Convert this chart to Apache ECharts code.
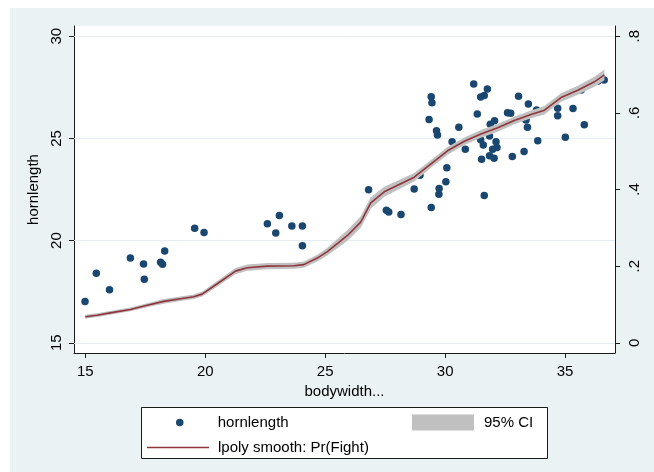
<!DOCTYPE html>
<html>
<head>
<meta charset="utf-8">
<script src="https://cdn.jsdelivr.net/npm/echarts@6/dist/echarts.min.js"></script>
<style>
  html, body { margin: 0; padding: 0; background: #ffffff; }
  #bg { position: absolute; left: 10px; top: 8px; width: 644px; height: 464px; background: #eaf2f3; }
  #chart { position: absolute; left: 0; top: 0; width: 654px; height: 472px; }
</style>
</head>
<body>
<div id="bg"></div>
<div id="chart"></div>
<script>
// ---- data ----
const bodywidth = [
  14.99, 15.46, 16.01, 16.88, 17.43, 17.46, 18.14, 18.22, 18.31, 19.56, 19.95,
  22.59, 23.09, 22.94, 23.61, 24.05, 24.05,
  26.81, 27.55, 27.65, 28.16, 28.71, 29.42, 29.75, 29.74, 30.03, 30.07, 29.33, 29.42, 29.45,
  29.64, 29.68, 30.57, 30.84, 31.19, 31.34, 30.29, 28.95,
  31.48, 31.63, 31.76,
  31.48, 31.59, 31.52, 31.63, 31.85, 31.88, 32.06, 32.12, 32.16, 31.98, 31.85, 32.04,
  32.60, 32.73, 32.80, 33.06, 33.29, 33.37, 33.47, 33.43, 33.86, 33.81, 34.69, 34.69,
  35.01, 35.33, 35.80, 35.67, 36.38, 36.63
];
const hornlength = [
  17.02, 18.40, 17.59, 19.15, 18.86, 18.11, 18.94, 18.84, 19.49, 20.60, 20.40,
  20.83, 21.23, 20.37, 20.71, 20.71, 19.75,
  22.49, 21.49, 21.40, 21.28, 22.52, 21.62, 22.55, 22.27, 22.88, 23.56, 25.92, 27.04, 26.75,
  25.38, 25.17, 25.55, 24.47, 27.66, 26.20, 24.84, 23.20,
  27.03, 27.10, 27.42,
  24.93, 24.68, 23.98, 22.21, 25.12, 25.69, 25.87, 24.84, 24.55, 24.47, 24.15, 24.03,
  26.26, 26.23, 24.11, 27.06, 24.36, 25.90, 26.68, 25.55, 24.88, 26.39, 26.47, 26.11,
  25.06, 26.46, 25.67, 27.37, 27.81, 27.86
];
const smoothX = [
  15.00, 15.49, 16.04, 16.88, 17.58, 18.27, 18.97, 19.52, 19.87, 20.50, 21.26, 21.75,
  22.59, 23.70, 24.11, 24.67, 25.09, 25.93, 26.48, 26.90, 27.46, 28.15, 28.71, 29.41,
  30.10, 30.80, 31.49, 32.19, 32.88, 33.58, 34.14, 34.83, 35.53, 36.22, 36.64
];
const smoothFight = [
  0.068, 0.072, 0.078, 0.087, 0.098, 0.108, 0.115, 0.120, 0.127, 0.154, 0.187, 0.196,
  0.200, 0.201, 0.204, 0.221, 0.238, 0.280, 0.315, 0.365, 0.394, 0.415, 0.432, 0.467,
  0.501, 0.526, 0.545, 0.561, 0.580, 0.596, 0.607, 0.640, 0.659, 0.681, 0.699
];
const ciLower = [
  0.063, 0.067, 0.073, 0.082, 0.093, 0.102, 0.109, 0.114, 0.121, 0.147, 0.179, 0.188,
  0.192, 0.193, 0.196, 0.212, 0.228, 0.266, 0.300, 0.350, 0.381, 0.403, 0.421, 0.457,
  0.491, 0.516, 0.535, 0.551, 0.570, 0.586, 0.596, 0.629, 0.647, 0.668, 0.685
];
const ciUpper = [
  0.073, 0.077, 0.083, 0.092, 0.103, 0.114, 0.121, 0.126, 0.133, 0.161, 0.195, 0.204,
  0.208, 0.209, 0.212, 0.230, 0.248, 0.294, 0.330, 0.380, 0.407, 0.427, 0.443, 0.477,
  0.511, 0.536, 0.555, 0.571, 0.590, 0.606, 0.618, 0.651, 0.671, 0.694, 0.713
];
const xTicks = [15, 20, 25, 30, 35];
const yTicksLeft = [15, 20, 25, 30];
const yTicksRight = [0, 0.2, 0.4, 0.6, 0.8];
const yTickLabelsRight = ['0', '.2', '.4', '.6', '.8'];

// ---- chart ----
const FONT = 'Liberation Sans, Arial, sans-serif';
const chart = echarts.init(document.getElementById('chart'), null, { renderer: 'canvas' });

const axisCommon = {
  axisLine: { show: true, onZero: false, lineStyle: { color: '#1a1a1a', width: 1 } },
  axisTick: { show: true, length: 5, lineStyle: { color: '#1a1a1a', width: 1 } },
  splitLine: { show: false }
};

chart.setOption({
  animation: false,
  backgroundColor: 'transparent',
  grid: {
    left: 74, right: 39, top: 26, bottom: 119,
    show: true, backgroundColor: '#ffffff', borderWidth: 0
  },
  xAxis: {
    type: 'value', min: 14.53, max: 37.08,
    ...axisCommon,
    axisTick: { ...axisCommon.axisTick, customValues: xTicks },
    axisLabel: { customValues: xTicks, margin: 11, fontSize: 15, color: '#000', fontFamily: FONT },
    name: 'bodywidth...', nameLocation: 'middle', nameGap: 29,
    nameTextStyle: { fontSize: 15, color: '#000', fontFamily: FONT }
  },
  yAxis: [
    {
      type: 'value', min: 14.5, max: 30.5, position: 'left',
      ...axisCommon,
      axisTick: { ...axisCommon.axisTick, customValues: yTicksLeft },
      axisLabel: { customValues: yTicksLeft, rotate: 90, margin: 10, fontSize: 15, color: '#000', fontFamily: FONT },
      name: 'hornlength', nameLocation: 'middle', nameGap: 27, nameRotate: 90,
      nameTextStyle: { fontSize: 15, color: '#000', fontFamily: FONT }
    },
    {
      type: 'value', min: -0.02667, max: 0.82667, position: 'right',
      ...axisCommon,
      axisTick: { ...axisCommon.axisTick, customValues: yTicksRight },
      axisLabel: {
        customValues: yTicksRight, rotate: 90, margin: 12, fontSize: 15, color: '#000', fontFamily: FONT,
        formatter: function (v) {
          const i = yTicksRight.findIndex(t => Math.abs(t - v) < 1e-9);
          return i >= 0 ? yTickLabelsRight[i] : '';
        }
      }
    }
  ],
  legend: [
    {
      data: [{ name: 'hornlength', icon: 'circle' }],
      left: 176, top: 414, padding: 0, itemWidth: 62, itemHeight: 7.5,
      selectedMode: false,
      textStyle: { fontSize: 15, color: '#000', fontFamily: FONT, padding: [0, 0, 0, 2], lineHeight: 17 }
    },
    {
      data: [{ name: 'lpoly smooth: Pr(Fight)', icon: 'rect' }],
      left: 147, top: 439, padding: 0, itemWidth: 62, itemHeight: 1.5,
      selectedMode: false,
      textStyle: { fontSize: 15, color: '#000', fontFamily: FONT, padding: [0, 0, 0, 4], lineHeight: 17 }
    },
    {
      data: [{ name: '95% CI', icon: 'rect' }],
      left: 412, top: 414, padding: 0, itemWidth: 62, itemHeight: 16,
      selectedMode: false,
      textStyle: { fontSize: 15, color: '#000', fontFamily: FONT, padding: [0, 0, 0, 5], lineHeight: 17 }
    }
  ],
  graphic: [
    {
      type: 'rect', x: 141.5, y: 407.5, z: -10,
      shape: { x: 0, y: 0, width: 406, height: 51 },
      style: { fill: '#ffffff', stroke: '#1a1a1a', lineWidth: 1 },
      silent: true
    }
  ],
  series: [
    {
      name: 'gridlines', type: 'line', data: [], z: 1, silent: true,
      markLine: {
        silent: true, symbol: 'none', z: 1, animation: false,
        label: { show: false },
        lineStyle: { color: '#e4edf1', width: 1, type: 'solid' },
        emphasis: { disabled: true },
        data: yTicksLeft.map(v => ({ yAxis: v }))
      }
    },
    {
      name: 'hornlength', type: 'scatter', z: 2,
      xAxisIndex: 0, yAxisIndex: 0,
      symbol: 'circle', symbolSize: 7.5,
      itemStyle: { color: '#1a476f', opacity: 1 },
      data: bodywidth.map((x, i) => [x, hornlength[i]])
    },
    {
      name: '95% CI', type: 'custom', z: 3,
      xAxisIndex: 0, yAxisIndex: 1,
      itemStyle: { color: '#c0c0c0' },
      data: smoothX.map((x, i) => [x, smoothFight[i]]),
      renderItem: function (params, api) {
        if (params.dataIndex !== 0) return null;
        const pts = [];
        for (let i = 0; i < smoothX.length; i++) pts.push(api.coord([smoothX[i], ciUpper[i]]));
        for (let i = smoothX.length - 1; i >= 0; i--) pts.push(api.coord([smoothX[i], ciLower[i]]));
        return { type: 'polygon', shape: { points: pts }, style: { fill: '#c0c0c0' } };
      }
    },
    {
      name: 'lpoly smooth: Pr(Fight)', type: 'line', z: 4,
      xAxisIndex: 0, yAxisIndex: 1,
      showSymbol: false, symbol: 'none',
      itemStyle: { color: '#90353b' },
      lineStyle: { color: '#90353b', width: 1.6 },
      data: smoothX.map((x, i) => [x, smoothFight[i]])
    }
  ]
});
</script>
</body>
</html>
